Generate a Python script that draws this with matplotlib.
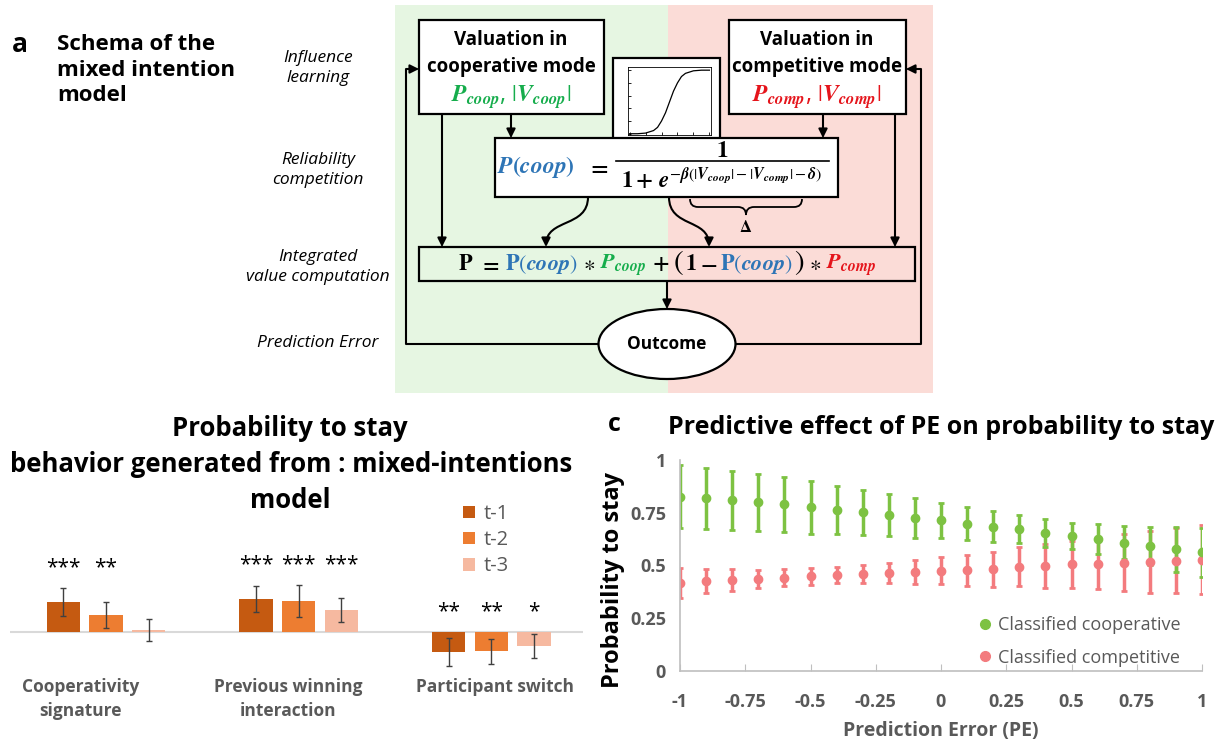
import numpy as np
import matplotlib.pyplot as plt
from matplotlib.patches import Rectangle, Ellipse, FancyArrowPatch, PathPatch
from matplotlib.path import Path
from matplotlib.lines import Line2D
from matplotlib.ticker import FuncFormatter

plt.rcParams['font.family'] = ['Open Sans', 'DejaVu Sans']
plt.rcParams['mathtext.fontset'] = 'stix'

W, H = 1232, 745
GREY = '#595959'
GREEN_BG = '#e6f6e2'
RED_BG = '#fbdcd7'
BLUE = '#2e75b6'
GREEN_TXT = '#16ad4c'
RED_TXT = '#e5141b'

# ---- panel b: regression weights on probability to stay ----
groups = ['Cooperativity\nsignature', 'Previous winning\ninteraction', 'Participant switch']
lags = ['t-1', 't-2', 't-3']
lag_colors = ['#c55a11', '#ed7d31', '#f6b9a0']
effect = [[0.30, 0.17, 0.025],
          [0.33, 0.31, 0.22],
          [-0.20, -0.19, -0.14]]
effect_err = [[0.14, 0.13, 0.11],
              [0.13, 0.16, 0.12],
              [0.14, 0.125, 0.12]]
stars = [['***', '**', ''],
         ['***', '***', '***'],
         ['**', '**', '*']]

# ---- panel c: probability to stay vs prediction error ----
pe = [-1, -0.9, -0.8, -0.7, -0.6, -0.5, -0.4, -0.3, -0.2, -0.1, 0,
      0.1, 0.2, 0.3, 0.4, 0.5, 0.6, 0.7, 0.8, 0.9, 1]
coop_mean = [0.826, 0.818, 0.810, 0.799, 0.790, 0.775, 0.763, 0.752, 0.739, 0.723, 0.715,
             0.699, 0.684, 0.671, 0.655, 0.639, 0.625, 0.609, 0.593, 0.576, 0.562]
coop_err = [0.149, 0.144, 0.140, 0.134, 0.129, 0.124, 0.116, 0.107, 0.100, 0.095, 0.083,
            0.078, 0.073, 0.066, 0.066, 0.063, 0.071, 0.080, 0.090, 0.105, 0.115]
comp_mean = [0.419, 0.427, 0.430, 0.438, 0.443, 0.449, 0.454, 0.459, 0.465, 0.470, 0.475,
             0.478, 0.483, 0.494, 0.498, 0.505, 0.509, 0.514, 0.517, 0.522, 0.528]
comp_err = [0.071, 0.058, 0.053, 0.043, 0.041, 0.040, 0.038, 0.042, 0.048, 0.057, 0.065,
            0.074, 0.083, 0.093, 0.105, 0.112, 0.122, 0.134, 0.145, 0.154, 0.162]

# sigmoid sketch in the schema
sig_x = [0, 0.1, 0.2, 0.3, 0.35, 0.4, 0.45, 0.5, 0.55, 0.6, 0.65, 0.7, 0.8, 0.9, 1.0]
sig_y = [0, 0.0, 0.01, 0.05, 0.1, 0.2, 0.33, 0.5, 0.67, 0.8, 0.9, 0.95, 0.99, 1, 1]

fig = plt.figure(figsize=(W / 100, H / 100), dpi=100)
base = fig.add_axes([0, 0, 1, 1])
base.set_xlim(0, W)
base.set_ylim(H, 0)
base.axis('off')
renderer = fig.canvas.get_renderer()

# ================= panel a: schema =================
base.add_patch(Rectangle((395, 5), 273, 388, fc=GREEN_BG, ec='none', zorder=0))
base.add_patch(Rectangle((668, 5), 265, 388, fc=RED_BG, ec='none', zorder=0))


def box(x0, y0, x1, y1, fc='white'):
    base.add_patch(Rectangle((x0, y0), x1 - x0, y1 - y0, fc=fc, ec='black', lw=1.6, zorder=3))


def arrow(pts, curve=False):
    if curve:
        p = Path(pts, [Path.MOVETO, Path.CURVE4, Path.CURVE4, Path.CURVE4])
    else:
        p = Path(pts)
    base.add_patch(FancyArrowPatch(path=p, arrowstyle='-|>', mutation_scale=13,
                                   color='black', lw=1.5, zorder=2))


def pieces_line(xc, y, pieces):
    # place coloured pieces of one formula side by side, centred on xc
    widths = []
    for txt, col, size, gap in pieces:
        t = base.text(0, y, txt, fontsize=size, color=col, va='baseline')
        widths.append(t.get_window_extent(renderer).width + gap)
        t.remove()
    x = xc - sum(widths) / 2
    for (txt, col, size, gap), w in zip(pieces, widths):
        base.text(x, y, txt, fontsize=size, color=col, va='baseline', zorder=5)
        x += w


base.text(12, 45, 'a', fontsize=19, fontweight='bold', va='center')
base.text(57, 70, 'Schema of the\nmixed intention\nmodel', fontsize=16, fontweight='bold',
          va='center', linespacing=1.3)

side_labels = [('Influence\nlearning', 68), ('Reliability\ncompetition', 170),
               ('Integrated\nvalue computation', 267), ('Prediction Error', 343)]
for lab, yy in side_labels:
    base.text(318, yy, lab, fontsize=12.5, style='italic', ha='center', va='center',
              linespacing=1.35)

# valuation boxes
box(419, 20, 604, 114)
box(729, 20, 906, 114)
base.text(511, 40, 'Valuation in', fontsize=13.5, fontweight='bold', ha='center', va='center', zorder=5)
base.text(511, 67, 'cooperative mode', fontsize=13.5, fontweight='bold', ha='center', va='center', zorder=5)
base.text(511, 97, r'$\mathbfit{P_{coop}}$, $|\mathbfit{V_{coop}}|$', fontsize=17, color=GREEN_TXT,
          ha='center', va='center', zorder=5)
base.text(817, 40, 'Valuation in', fontsize=13.5, fontweight='bold', ha='center', va='center', zorder=5)
base.text(817, 67, 'competitive mode', fontsize=13.5, fontweight='bold', ha='center', va='center', zorder=5)
base.text(817, 97, r'$\mathbfit{P_{comp}}$, $|\mathbfit{V_{comp}}|$', fontsize=17, color=RED_TXT,
          ha='center', va='center', zorder=5)

# sigmoid inset
base.add_patch(Rectangle((613, 58), 107, 90, fc='white', ec='black', lw=1.6, zorder=3))
ins = fig.add_axes([628 / W, 1 - 135 / H, 83 / W, 68 / H])
ins.plot(sig_x, sig_y, color='black', lw=0.9)
ins.set_xlim(-0.02, 1.02)
ins.set_ylim(-0.02, 1.05)
ins.set_xticks([0, 0.2, 0.4, 0.6, 0.8, 1])
ins.set_yticks([0, 0.2, 0.4, 0.6, 0.8, 1])
ins.tick_params(direction='in', length=2, width=0.6, labelleft=False, labelbottom=False)
for s in ins.spines.values():
    s.set_linewidth(0.6)

# reliability box
box(495, 138, 838, 197)
base.text(536, 167, r'$\mathbfit{P}\mathbf{(}\mathbfit{coop}\mathbf{)}$', fontsize=17, color=BLUE,
          ha='center', va='center', zorder=5)
base.text(598, 167, r'$\mathbf{=}$', fontsize=17, ha='center', va='center', zorder=5)
base.text(722, 151, r'$\mathbf{1}$', fontsize=17, ha='center', va='center', zorder=5)
base.plot([616, 829], [161, 161], color='black', lw=1.2, zorder=5)
base.text(722, 181, r'$\mathbf{1+}\,\mathbfit{e}^{-\mathbfit{\beta}(|\mathbfit{V_{coop}}|-|\mathbfit{V_{comp}}|-\mathbfit{\delta})}$',
          fontsize=16.5, ha='center', va='center', zorder=5)

# brace + delta
brace = Path([(690, 199), (690, 207), (698, 207), (738, 207), (746, 207), (746, 215),
              (746, 207), (754, 207), (794, 207), (802, 207), (802, 199)],
             [Path.MOVETO, Path.CURVE3, Path.CURVE3, Path.LINETO, Path.CURVE3, Path.CURVE3,
              Path.CURVE3, Path.CURVE3, Path.LINETO, Path.CURVE3, Path.CURVE3])
base.add_patch(PathPatch(brace, fc='none', ec='black', lw=1.3, zorder=4))
base.text(746, 228, r'$\mathbf{\Delta}$', fontsize=12, ha='center', va='center')

# integrated value box
box(419, 247, 915, 281, fc='none')
pieces_line(667, 270, [
    (r'$\mathbf{P}$', 'black', 16, 6),
    (r'$\mathbf{=}$', 'black', 16, 6),
    (r'$\mathbf{P}(\mathbfit{coop})$', BLUE, 16, 5),
    (r'$\ast$', 'black', 16, 5),
    (r'$\mathbfit{P_{coop}}$', GREEN_TXT, 16, 6),
    (r'$\mathbf{+}$', 'black', 16, 4),
    (r'$($', 'black', 21, 1),
    (r'$\mathbf{1}$', 'black', 16, 3),
    (r'$\mathbf{-}$', 'black', 16, 3),
    (r'$\mathbf{P}(\mathbfit{coop})$', BLUE, 16, 1),
    (r'$)$', 'black', 21, 5),
    (r'$\ast$', 'black', 16, 5),
    (r'$\mathbfit{P_{comp}}$', RED_TXT, 16, 0),
])

# outcome
base.add_patch(Ellipse((667, 344), 137, 70, fc='white', ec='black', lw=1.6, zorder=3))
base.text(667, 344, 'Outcome', fontsize=12.5, fontweight='bold', ha='center', va='center', zorder=5)

# arrows
arrow([(511, 114), (511, 138)])
arrow([(823, 114), (823, 138)])
arrow([(442, 114), (442, 247)])
arrow([(895, 114), (895, 247)])
arrow([(588, 197), (588, 228), (546, 218), (546, 247)], curve=True)
arrow([(669, 197), (669, 228), (709, 218), (709, 247)], curve=True)
arrow([(667, 281), (667, 309)])
arrow([(598, 344), (406, 344), (406, 69), (419, 69)])
arrow([(736, 344), (921, 344), (921, 69), (906, 69)])

# ================= panel b: bar chart =================
# axes spans x 10..583 px, y 540..700 px; group centre 0 sits at 106 px, 192.7 px per group
axb = fig.add_axes([10 / W, 1 - 700 / H, 573 / W, 160 / H])
axb.set_xlim(-96 / 192.7, 477 / 192.7)
axb.set_ylim(-0.68, 0.92)
axb.axis('off')
axb.axhline(0, color='#d9d9d9', lw=1.5, zorder=1)
offs = [-0.2216, 0, 0.2216]
xg = np.arange(len(groups))
for j in range(len(lags)):
    vals = [effect[g][j] for g in range(len(groups))]
    errs = [effect_err[g][j] for g in range(len(groups))]
    axb.bar(xg + offs[j], vals, width=0.174, color=lag_colors[j], label=lags[j], zorder=2)
    axb.errorbar(xg + offs[j], vals, yerr=errs, fmt='none', ecolor='#404040', elinewidth=1,
                 capsize=2.5, capthick=1, zorder=3)
# significance stars, one row per group above the highest error bar
for g in range(len(groups)):
    top = max(max(v + e for v, e in zip(effect[g], effect_err[g])), 0) + 0.2
    for j in range(len(lags)):
        axb.text(xg[g] + offs[j], top, stars[g][j], fontsize=15, ha='center', va='center')
label_x = [81, 288, 495]
for g, lab in enumerate(groups):
    fig.text(label_x[g] / W, 1 - 678 / H, lab, fontsize=12.5, fontweight='bold', color=GREY,
             ha='center', va='top', linespacing=1.45)
axb.legend(loc='upper left', bbox_to_anchor=(445 / W, 1 - 486 / H), bbox_transform=fig.transFigure,
           frameon=False, fontsize=14.5, labelcolor=GREY, handlelength=0.6, handleheight=0.6,
           handletextpad=0.4, labelspacing=0.3)

fig.text(290 / W, 1 - 428 / H, 'Probability to stay', fontsize=18.5, fontweight='bold',
         ha='center', va='center')
fig.text(291 / W, 1 - 465 / H, 'behavior generated from : mixed-intentions', fontsize=18.5,
         fontweight='bold', ha='center', va='center')
fig.text(290 / W, 1 - 500 / H, 'model', fontsize=18.5, fontweight='bold', ha='center', va='center')

# ================= panel c: PE effect =================
axc = fig.add_axes([680 / W, 1 - 671 / H, 522 / W, 211 / H])
c_green = '#7dc242'
c_red = '#f37b7e'
axc.errorbar(pe, comp_mean, yerr=comp_err, fmt='o', color=c_red, ms=6, elinewidth=2.5,
             capsize=2.5, capthick=2)
axc.errorbar(pe, coop_mean, yerr=coop_err, fmt='o', color=c_green, ms=6, elinewidth=2.5,
             capsize=2.5, capthick=2)
axc.set_xlim(-1, 1)
axc.set_ylim(0, 1)
axc.set_xticks([-1, -0.75, -0.5, -0.25, 0, 0.25, 0.5, 0.75, 1])
axc.set_yticks([0, 0.25, 0.5, 0.75, 1])
fmt = FuncFormatter(lambda v, p: ('%g' % v))
axc.xaxis.set_major_formatter(fmt)
axc.yaxis.set_major_formatter(fmt)
for s in ['top', 'right']:
    axc.spines[s].set_visible(False)
for s in ['left', 'bottom']:
    axc.spines[s].set_color('#bfbfbf')
    axc.spines[s].set_linewidth(1.2)
axc.tick_params(axis='x', direction='in', length=5, color='#bfbfbf', labelsize=13,
                labelcolor=GREY, pad=16)
axc.tick_params(axis='y', length=0, labelsize=13, labelcolor=GREY, pad=10)
for lab in axc.get_xticklabels() + axc.get_yticklabels():
    lab.set_fontweight('bold')
axc.set_xlabel('Prediction Error (PE)', fontsize=14, fontweight='bold', color=GREY, labelpad=7)
fig.text(613 / W, 1 - 580 / H, 'Probability to stay', fontsize=17, fontweight='bold',
         rotation=90, ha='center', va='center')
handles = [Line2D([], [], ls='none', marker='o', color=c_green, ms=7),
           Line2D([], [], ls='none', marker='o', color=c_red, ms=7)]
axc.legend(handles, ['Classified cooperative', 'Classified competitive'], loc='upper left',
           bbox_to_anchor=(962 / W, 1 - 600 / H), bbox_transform=fig.transFigure, frameon=False,
           fontsize=13, labelcolor=GREY, handlelength=0.8, handletextpad=0.3, labelspacing=0.8)

fig.text(608 / W, 1 - 425 / H, 'c', fontsize=18, fontweight='bold', va='center')
fig.text(941 / W, 1 - 427 / H, 'Predictive effect of PE on probability to stay', fontsize=18,
         fontweight='bold', ha='center', va='center')

fig.savefig('out.png', dpi=100)
